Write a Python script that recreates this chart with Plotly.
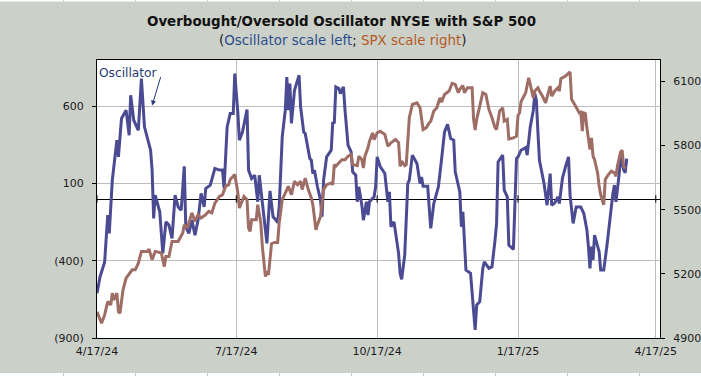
import plotly.graph_objects as go

# ---------------- data ----------------
osc_dates = [
    "2024-04-17", "2024-04-19", "2024-04-22", "2024-04-24", "2024-04-25", "2024-04-27", "2024-04-30",
    "2024-05-01", "2024-05-03", "2024-05-06", "2024-05-08", "2024-05-09", "2024-05-11", "2024-05-14",
    "2024-05-16", "2024-05-18", "2024-05-22", "2024-05-23", "2024-05-24", "2024-05-25", "2024-05-28",
    "2024-05-30", "2024-06-01", "2024-06-03", "2024-06-05", "2024-06-07", "2024-06-09", "2024-06-11",
    "2024-06-13", "2024-06-14", "2024-06-16", "2024-06-18", "2024-06-20", "2024-06-22", "2024-06-24",
    "2024-06-26", "2024-06-27", "2024-06-30", "2024-07-03", "2024-07-06", "2024-07-08", "2024-07-09",
    "2024-07-11", "2024-07-13", "2024-07-15", "2024-07-16", "2024-07-18", "2024-07-19", "2024-07-21",
    "2024-07-24", "2024-07-25", "2024-07-27", "2024-07-29", "2024-07-31", "2024-08-01", "2024-08-03",
    "2024-08-06", "2024-08-08", "2024-08-10", "2024-08-12", "2024-08-13", "2024-08-14", "2024-08-16",
    "2024-08-18", "2024-08-19", "2024-08-20", "2024-08-21", "2024-08-22", "2024-08-24", "2024-08-27",
    "2024-08-28", "2024-08-30", "2024-08-31", "2024-09-03", "2024-09-04", "2024-09-05", "2024-09-06",
    "2024-09-08", "2024-09-10", "2024-09-11", "2024-09-12", "2024-09-14", "2024-09-16", "2024-09-17",
    "2024-09-18", "2024-09-19", "2024-09-20", "2024-09-22", "2024-09-23", "2024-09-25", "2024-09-26",
    "2024-09-28", "2024-09-30", "2024-10-01", "2024-10-03", "2024-10-04", "2024-10-05", "2024-10-07",
    "2024-10-08", "2024-10-10", "2024-10-11", "2024-10-12", "2024-10-15", "2024-10-16", "2024-10-17",
    "2024-10-19", "2024-10-22", "2024-10-24", "2024-10-25", "2024-10-26", "2024-10-28", "2024-10-31",
    "2024-11-01", "2024-11-02", "2024-11-04", "2024-11-06", "2024-11-07", "2024-11-09", "2024-11-12",
    "2024-11-14", "2024-11-15", "2024-11-16", "2024-11-19", "2024-11-21", "2024-11-23", "2024-11-26",
    "2024-11-28", "2024-11-30", "2024-12-02", "2024-12-04", "2024-12-06", "2024-12-07", "2024-12-10",
    "2024-12-11", "2024-12-12", "2024-12-14", "2024-12-17", "2024-12-19", "2024-12-20", "2024-12-21",
    "2024-12-23", "2024-12-25", "2024-12-26", "2024-12-29", "2024-12-31", "2025-01-02", "2025-01-03",
    "2025-01-04", "2025-01-07", "2025-01-08", "2025-01-10", "2025-01-11", "2025-01-14", "2025-01-15",
    "2025-01-16", "2025-01-17", "2025-01-19", "2025-01-22", "2025-01-23", "2025-01-25", "2025-01-27",
    "2025-01-28", "2025-01-29", "2025-01-30", "2025-01-31", "2025-02-03", "2025-02-05", "2025-02-07",
    "2025-02-08", "2025-02-10", "2025-02-12", "2025-02-13", "2025-02-15", "2025-02-17", "2025-02-19",
    "2025-02-20", "2025-02-22", "2025-02-24", "2025-02-27", "2025-03-01", "2025-03-03", "2025-03-04",
    "2025-03-05", "2025-03-06", "2025-03-07", "2025-03-08", "2025-03-11", "2025-03-12", "2025-03-14",
    "2025-03-16", "2025-03-19", "2025-03-20", "2025-03-21", "2025-03-22", "2025-03-24", "2025-03-25",
    "2025-03-27", "2025-03-28", "2025-03-29",
]
osc_values = [
    -610, -503, -407, -104, -223, 122, 381,
    273, 521, 575, 413, 672, 510, 445,
    780, 467, 316, 187, -126, 25, -83,
    -352, -148, -169, -255, 25, -51, -72,
    212, -180, -223, -137, -234, -137, 36,
    -51, 68, 90, 198, 187, 187, 68,
    467, 553, 553, 812, 560, 381, 434,
    579, 187, 133, 154, -18, 154, -7,
    -287, 53, -115, -137, -154, -51, 402,
    575, 790, 575, 747, 489, 704, 801,
    596, 434, 424, 262, 251, 165, 187,
    79, -7, -115, 122, 273, 305, 316,
    499, 489, 726, 715, 683, 726, 575,
    348, 305, 176, 154, -18, 79, -40,
    -137, -18, -104, -18, 14, 79, 273,
    210, 165, -18, 46, -180, -148, -352,
    -481, -520, -363, 100, 122, 284, 230,
    100, 143, 83, 83, -190, -29, 79,
    251, 434, 484, 392, 381, 176, 46,
    -180, -83, -460, -481, -697, -848, -687,
    -665, -449, -407, -449, -439, -266, -158,
    240, 284, 57, 14, -298, -326, -29,
    262, 273, 316, 333, 284, 467, 575,
    683, 639, 434, 251, 100, -40, 165,
    -40, -25, 14, -29, 133, 208, 273,
    25, -158, -51, -51, -94, -201, -309,
    -449, -309, -395, -234, -342, -460, -460,
    -309, -29, 36, 90, -18, 154, 273,
    190, 170, 262,
]

spx_dates = [
    "2024-04-17", "2024-04-20", "2024-04-22", "2024-04-24", "2024-04-26", "2024-04-27", "2024-04-28",
    "2024-04-30", "2024-05-01", "2024-05-02", "2024-05-04", "2024-05-06", "2024-05-10", "2024-05-12",
    "2024-05-14", "2024-05-16", "2024-05-20", "2024-05-21", "2024-05-23", "2024-05-25", "2024-05-28",
    "2024-05-29", "2024-05-31", "2024-06-01", "2024-06-03", "2024-06-05", "2024-06-09", "2024-06-12",
    "2024-06-13", "2024-06-15", "2024-06-18", "2024-06-20", "2024-06-22", "2024-06-24", "2024-06-27",
    "2024-06-29", "2024-07-01", "2024-07-03", "2024-07-06", "2024-07-08", "2024-07-10", "2024-07-12",
    "2024-07-13", "2024-07-16", "2024-07-18", "2024-07-19", "2024-07-22", "2024-07-24", "2024-07-25",
    "2024-07-26", "2024-07-27", "2024-07-30", "2024-07-31", "2024-08-02", "2024-08-03", "2024-08-05",
    "2024-08-06", "2024-08-07", "2024-08-09", "2024-08-11", "2024-08-13", "2024-08-14", "2024-08-16",
    "2024-08-18", "2024-08-20", "2024-08-22", "2024-08-24", "2024-08-26", "2024-08-28", "2024-08-29",
    "2024-08-31", "2024-09-02", "2024-09-04", "2024-09-05", "2024-09-07", "2024-09-08", "2024-09-10",
    "2024-09-12", "2024-09-14", "2024-09-17", "2024-09-18", "2024-09-19", "2024-09-20", "2024-09-22",
    "2024-09-24", "2024-09-26", "2024-09-28", "2024-09-30", "2024-10-01", "2024-10-04", "2024-10-05",
    "2024-10-07", "2024-10-08", "2024-10-09", "2024-10-11", "2024-10-12", "2024-10-14", "2024-10-15",
    "2024-10-17", "2024-10-19", "2024-10-22", "2024-10-24", "2024-10-26", "2024-10-29", "2024-10-31",
    "2024-11-01", "2024-11-02", "2024-11-04", "2024-11-05", "2024-11-07", "2024-11-09", "2024-11-12",
    "2024-11-14", "2024-11-16", "2024-11-18", "2024-11-20", "2024-11-21", "2024-11-23", "2024-11-25",
    "2024-11-26", "2024-11-27", "2024-11-28", "2024-11-30", "2024-12-03", "2024-12-05", "2024-12-07",
    "2024-12-09", "2024-12-10", "2024-12-12", "2024-12-13", "2024-12-15", "2024-12-18", "2024-12-19",
    "2024-12-20", "2024-12-21", "2024-12-23", "2024-12-25", "2024-12-27", "2024-12-29", "2024-12-31",
    "2025-01-02", "2025-01-03", "2025-01-05", "2025-01-07", "2025-01-08", "2025-01-10", "2025-01-11",
    "2025-01-14", "2025-01-16", "2025-01-17", "2025-01-18", "2025-01-19", "2025-01-22", "2025-01-24",
    "2025-01-26", "2025-01-27", "2025-01-28", "2025-01-30", "2025-01-31", "2025-02-02", "2025-02-04",
    "2025-02-05", "2025-02-07", "2025-02-08", "2025-02-10", "2025-02-12", "2025-02-13", "2025-02-14",
    "2025-02-17", "2025-02-20", "2025-02-21", "2025-02-23", "2025-02-26", "2025-02-27", "2025-02-28",
    "2025-03-01", "2025-03-02", "2025-03-03", "2025-03-05", "2025-03-06", "2025-03-07", "2025-03-08",
    "2025-03-10", "2025-03-11", "2025-03-12", "2025-03-14", "2025-03-15", "2025-03-17", "2025-03-19",
    "2025-03-21", "2025-03-22", "2025-03-23", "2025-03-25", "2025-03-26", "2025-03-27", "2025-03-28",
]
spx_values = [
    5023, 4969, 5008, 5070, 5055, 5110, 5078,
    5110, 5023, 5016, 5125, 5180, 5219, 5219,
    5250, 5305, 5305, 5316, 5266, 5305, 5300,
    5297, 5234, 5281, 5281, 5351, 5351, 5391,
    5430, 5414, 5485, 5445, 5477, 5461, 5477,
    5492, 5485, 5531, 5562, 5570, 5609, 5617,
    5641, 5664, 5580, 5508, 5562, 5547, 5414,
    5398, 5453, 5453, 5523, 5438, 5328, 5187,
    5211, 5195, 5341, 5347, 5347, 5438, 5547,
    5578, 5609, 5570, 5633, 5617, 5633, 5594,
    5648, 5594, 5555, 5523, 5406, 5430, 5469,
    5594, 5617, 5625, 5617, 5711, 5703, 5719,
    5734, 5734, 5750, 5758, 5711, 5706, 5750,
    5734, 5695, 5750, 5789, 5820, 5859, 5828,
    5859, 5867, 5852, 5797, 5813, 5828, 5813,
    5703, 5727, 5706, 5711, 5930, 5992, 6000,
    5977, 5875, 5883, 5906, 5914, 5961, 5977,
    6000, 6023, 6003, 6039, 6055, 6091, 6086,
    6047, 6063, 6081, 6047, 6070, 6070, 5922,
    5872, 5922, 5984, 6047, 6039, 5969, 5930,
    5883, 5875, 5961, 5977, 5914, 5922, 5831,
    5836, 5844, 5940, 5953, 6005, 6047, 6117,
    6063, 6023, 6055, 6070, 6055, 6031, 6000,
    6031, 6078, 6031, 6055, 6070, 6055, 6113,
    6125, 6144, 6016, 5992, 5953, 5956, 5867,
    5953, 5950, 5883, 5781, 5836, 5750, 5734,
    5672, 5609, 5570, 5523, 5641, 5664, 5680,
    5672, 5656, 5706, 5769, 5778, 5703, 5691,
]

x_tickvals = ["2024-04-17", "2024-07-17", "2024-10-17", "2025-01-17", "2025-04-17"]
x_ticktext = ["4/17/24", "7/17/24", "10/17/24", "1/17/25", "4/17/25"]
osc_tickvals = [-900, -400, 100, 600]
osc_ticktext = ["(900)", "(400)", "100", "600"]
spx_tickvals = [4900, 5200, 5500, 5800, 6100]
spx_ticktext = ["4900", "5200", "5500", "5800", "6100"]

title_text = "Overbought/Oversold Oscillator NYSE with S&P 500"
subtitle_parts = [("(", "#1a1a1a"), ("Oscillator scale left", "#2C4E8C"),
                  ("; ", "#1a1a1a"), ("SPX scale right", "#B35A1F"), (")", "#1a1a1a")]

# ---------------- styling ----------------
FONT = "DejaVu Sans"
BG = "#CBD0C9"
OSC_COLOR = "#4A4B92"
SPX_COLOR = "#9E6D66"
TICK_SIZE = 11
W, H = 701, 376
ML, MR, MT, MB = 97, 41, 60, 38
PW, PH = W - ML - MR, H - MT - MB


def px_x(x):
    return (x - ML) / PW


def px_y(y):
    return (H - MB - y) / PH


fig = go.Figure()
fig.add_trace(go.Scatter(x=spx_dates, y=spx_values, mode="lines", yaxis="y2",
                         line=dict(color=SPX_COLOR, width=3), name="SPX"))
fig.add_trace(go.Scatter(x=osc_dates, y=osc_values, mode="lines", yaxis="y",
                         line=dict(color=OSC_COLOR, width=3), name="Oscillator"))

shapes = []
# small tick marks on the zero line at each date tick
for tv in x_tickvals:
    shapes.append(dict(type="line", xref="x", yref="y", x0=tv, x1=tv, y0=-24, y1=24,
                       line=dict(color="black", width=1), layer="above"))

# spreadsheet-cell strips visible at the very top and bottom edges of the picture
for (ya, yb) in [(0, 1.5), (373, 376)]:
    shapes.append(dict(type="rect", xref="paper", yref="paper",
                       x0=px_x(0), x1=px_x(W), y0=px_y(yb), y1=px_y(ya),
                       fillcolor="white", line=dict(width=0), layer="below"))
    for k in range(9):
        xc = 63.5 + 72 * k
        shapes.append(dict(type="line", xref="paper", yref="paper",
                           x0=px_x(xc), x1=px_x(xc), y0=px_y(yb), y1=px_y(ya),
                           line=dict(color="#C6C6C6", width=1), layer="below"))

subtitle = "".join(f"<span style='color:{c}'>{t}</span>" for t, c in subtitle_parts)

fig.update_layout(
    width=W, height=H,
    margin=dict(l=ML, r=MR, t=MT, b=MB, autoexpand=False),
    paper_bgcolor=BG, plot_bgcolor="white",
    showlegend=False,
    font=dict(family=FONT, size=12, color="#1a1a1a"),
    xaxis=dict(type="date", range=["2024-04-17", "2025-04-19 18:00"],
               tickvals=x_tickvals, ticktext=x_ticktext, automargin=False,
               showgrid=True, gridcolor="#BDBDBD", gridwidth=1,
               showline=True, linecolor="black", linewidth=1, mirror=True,
               ticks="", ticklabelstandoff=3, zeroline=False,
               tickfont=dict(size=TICK_SIZE)),
    yaxis=dict(range=[-900, 900], tickvals=osc_tickvals, ticktext=osc_ticktext,
               automargin=False,
               showgrid=True, gridcolor="#BDBDBD", gridwidth=1,
               showline=True, linecolor="black", linewidth=1, mirror=True,
               ticks="outside", ticklen=4, tickcolor="black", ticklabelstandoff=6,
               zeroline=True, zerolinecolor="black", zerolinewidth=1,
               tickfont=dict(size=TICK_SIZE)),
    yaxis2=dict(range=[4900, 6200], tickvals=spx_tickvals, ticktext=spx_ticktext,
                automargin=False,
                overlaying="y", side="right", showgrid=False, zeroline=False,
                showline=True, linecolor="black", linewidth=1,
                ticks="outside", ticklen=4, tickcolor="black", ticklabelstandoff=6,
                tickfont=dict(size=TICK_SIZE)),
    shapes=shapes,
    annotations=[
        dict(text=f"<b>{title_text}</b>", xref="paper", yref="paper",
             x=px_x(341), y=px_y(22), xanchor="center", yanchor="middle",
             showarrow=False, font=dict(size=13.4, color="#111111", family=FONT)),
        dict(text=subtitle, xref="paper", yref="paper",
             x=px_x(342), y=px_y(41), xanchor="center", yanchor="middle",
             showarrow=False, font=dict(size=13.4, family=FONT)),
        dict(text="Oscillator", xref="paper", yref="paper", x=0.0, y=px_y(73),
             xanchor="left", yanchor="middle", showarrow=False,
             font=dict(size=12.2, color="#1F3C78", family=FONT)),
        dict(text="", xref="x", yref="y", x="2024-05-23", y=605,
             showarrow=True, ax=9, ay=-30, arrowhead=2, arrowsize=1, arrowwidth=1,
             arrowcolor="#1F3C78", font=dict(size=1)),
    ],
)

fig.write_html("out.html", config={"displayModeBar": False},
               post_script="document.body.style.margin='0px';")
